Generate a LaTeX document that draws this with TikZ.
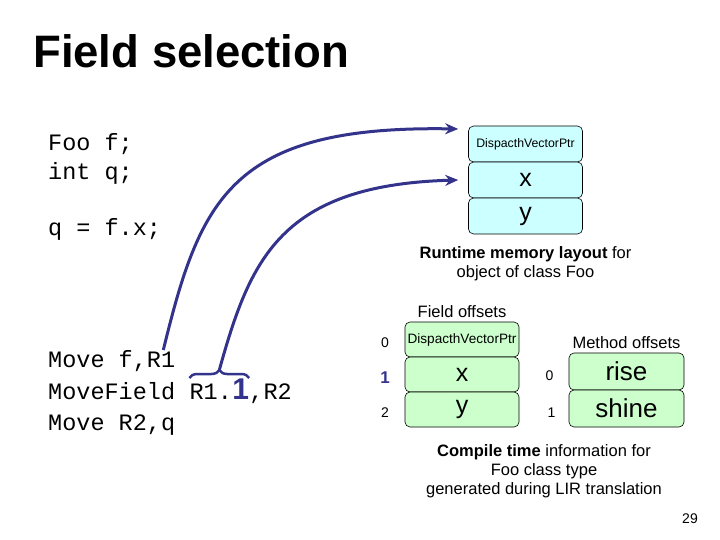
\documentclass[tikz,border=0pt]{standalone}
\usepackage{fontspec}
\setmainfont{Liberation Sans}
\setmonofont{Liberation Mono}
\usetikzlibrary{positioning,calc,arrows.meta,decorations.pathreplacing}

\definecolor{linkblue}{RGB}{51,51,140}
\definecolor{runcyan}{RGB}{204,255,255}
\definecolor{compgreen}{RGB}{204,255,204}

\begin{document}
\begin{tikzpicture}[x=1pt,y=-1pt,every node/.style={align=center},
    code/.style={font=\ttfamily\fontsize{23.5}{28}\selectfont,anchor=base west,inner sep=0pt},
    slot/.style={draw,line width=0.6pt,rounded corners=5pt,minimum width=114pt,inner sep=0pt},
    link/.style={draw=linkblue,line width=3pt,-{Stealth[length=13pt,width=11pt]}},
    note/.style={font=\fontsize{16.5}{19}\selectfont},
    offs/.style={font=\fontsize{14}{15}\selectfont}]
        \useasboundingbox (0,0) rectangle (720,540);

        \node[anchor=base west,inner sep=0pt,font=\bfseries\fontsize{45.5}{50}\selectfont] (title) at (33,68) {Field selection};

        % source code
        \node[code] (foo) at (48,151) {Foo f;};
        \node[code] (intq) at (48,180) {int q;};
        \node[code] (qfx) at (48,236) {q = f.x;};

        % LIR code
        \node[code] (movef) at (48,367) {Move f,R1};
        \node[code] (mf) at (48,399) {MoveField};
        \node[code] (rone) at ([xshift=14.1pt]mf.base east) {R1.};
        \node[code,font=\bfseries\fontsize{30}{32}\selectfont,text=linkblue] (bigone) at (rone.base east) {1};
        \node[code] (rtwo) at (bigone.base east) {,R2};
        \node[code] (mover) at (48,430) {Move R2,q};

        % runtime layout
        \node[slot,fill=runcyan,minimum height=36pt,font=\fontsize{12.3}{14}\selectfont] (rdvp) at (525.5,144) {DispacthVectorPtr};
        \node[slot,fill=runcyan,minimum height=36pt,below of=rdvp,node distance=36pt,font=\fontsize{25}{28}\selectfont] (rx) {x};
        \node[slot,fill=runcyan,minimum height=36pt,below of=rx,node distance=36pt,font=\fontsize{25}{28}\selectfont] (ry) {y};
        \node[note,below of=ry,node distance=47.5pt] (rtcap) {\textbf{Runtime memory layout} for\\object of class Foo};

        % field offsets
        \node[slot,fill=compgreen,minimum height=35pt,font=\fontsize{13.6}{15}\selectfont] (fdvp) at (462,339.5) {DispacthVectorPtr};
        \node[slot,fill=compgreen,minimum height=35pt,below of=fdvp,node distance=35pt,font=\fontsize{25}{28}\selectfont] (fx) {x};
        \node[slot,fill=compgreen,minimum height=35pt,below of=fx,node distance=35pt,font=\fontsize{25}{28}\selectfont] (fy) {y};
        \node[note,above of=fdvp,node distance=28pt] (fofs) {Field offsets};
        \node[offs,left of=fdvp,node distance=77pt,yshift=-3pt] (off0) {0};
        \node[offs,left of=fx,node distance=77pt,yshift=-3pt,font=\bfseries\fontsize{17}{18}\selectfont,text=linkblue] (off1) {1};
        \node[offs,left of=fy,node distance=77pt,yshift=-3pt] (off2) {2};

        % method offsets
        \node[slot,fill=compgreen,minimum width=115pt,minimum height=37pt,font=\fontsize{26}{28}\selectfont] (mrise) at (626.5,371.5) {rise};
        \node[slot,fill=compgreen,minimum width=115pt,minimum height=37pt,below of=mrise,node distance=37pt,font=\fontsize{26}{28}\selectfont] (mshine) {shine};
        \node[note,above of=mrise,node distance=28.5pt] (mofs) {Method offsets};
        \node[offs,left of=mrise,node distance=77pt,yshift=-4pt] (moff0) {0};
        \node[offs,left of=mshine,node distance=75pt,yshift=-4pt] (moff1) {1};

        \node[note] (ctcap) at (544,471) {\textbf{Compile time} information for\\Foo class type\\generated during LIR translation};
        \node[font=\fontsize{14}{16}\selectfont] (pageno) at (690,519) {29};

        % brace and links
        \draw[linkblue,line width=2.5pt,decorate,decoration={brace,amplitude=8pt}]
            ([yshift=21pt]rone.base west) -- ([yshift=21pt]bigone.base east);
        \coordinate (bracetip) at ($(rone.base west)!0.5!(bigone.base east)+(0,-29)$);
        \coordinate (fstart) at ($(movef.base east)+(-12,-17)$);

        \draw[link] (fstart) .. controls (200,200) and (230,125) .. ([xshift=-10pt,yshift=15pt]rdvp.west);
        \draw[link] (bracetip) .. controls (250,260) and (280,185) .. ([xshift=-10pt]rx.west);
    \end{tikzpicture}
\end{document}
